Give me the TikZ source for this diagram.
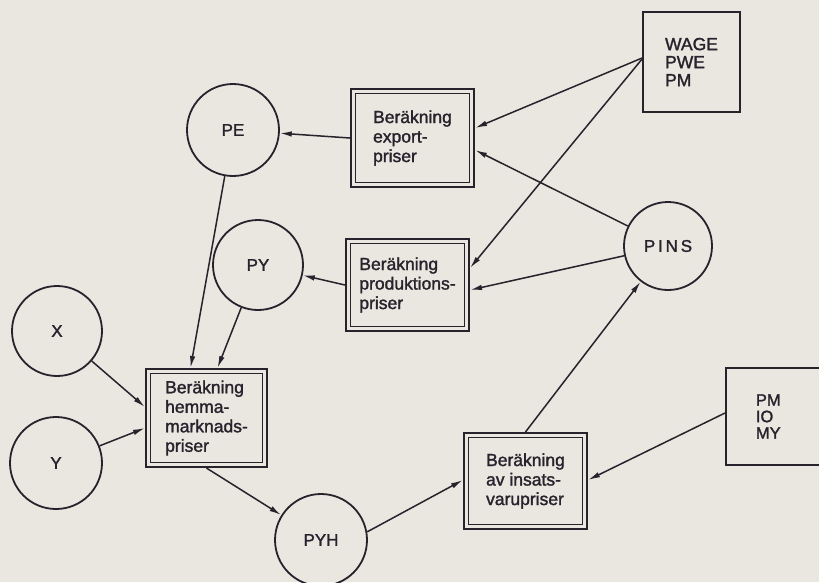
\documentclass[tikz,border=0pt]{standalone}
\usepackage{fontspec}
\setmainfont{Liberation Sans}
\newfontfamily\labelfont{Liberation Sans}[FakeBold=1.6]
\usetikzlibrary{arrows.meta,calc}
\definecolor{paper}{RGB}{233,231,224}
\definecolor{ink}{RGB}{40,34,44}
\tikzset{
  calcbox/.style={draw=ink, line width=2.1pt, align=left, text=ink, inner sep=0pt,
    font=\labelfont\fontsize{17.5}{19.5}\selectfont,
    path picture={\draw[ink, line width=1.4pt]
      ([shift={(4.5pt,-4.5pt)}]path picture bounding box.north west) rectangle
      ([shift={(-4.5pt,4.5pt)}]path picture bounding box.south east);}},
  databox/.style={draw=ink, line width=1.8pt, align=left, text=ink, inner sep=0pt},
  var/.style={circle, draw=ink, line width=1.8pt, inner sep=0pt, text=ink,
    font=\labelfont\fontsize{17}{19}\selectfont},
  flow/.style={draw=ink, line width=1.5pt, -{Latex[length=12pt,width=5.5pt]}},
}
\begin{document}
\begin{tikzpicture}[x=1pt,y=-1pt]
  \useasboundingbox (0,0) rectangle (819,582);
  \fill[paper] (0,0) rectangle (819,582);
  \clip (0,0) rectangle (819,582);

  % calculation blocks
  \node[calcbox, minimum width=123pt, minimum height=98pt] (exp) at (412.5,138)
    {Beräkning\\export-\\priser};
  \node[calcbox, minimum width=123pt, minimum height=92pt] (prod) at (407.5,285)
    {Beräkning\\produktions-\\priser};
  \node[calcbox, minimum width=121pt, minimum height=98pt] (hem) at (206.5,418)
    {Beräkning\\hemma-\\marknads-\\priser};
  \node[calcbox, minimum width=123pt, minimum height=96pt] (ins) at (525.5,481)
    {Beräkning\\av insats-\\varupriser};

  % exogenous data
  \node[databox, minimum width=97pt, minimum height=100pt,
        font=\labelfont\fontsize{17.5}{18}\selectfont] (wage) at (691.5,62)
    {WAGE\\PWE\\PM};
  \node[databox, anchor=west, minimum height=97pt, text width=90pt, inner xsep=30pt,
        font=\labelfont\fontsize{16.5}{16.5}\selectfont] (pmb) at (725,416.5)
    {PM\\IO\\MY};

  % variables
  \node[var, minimum size=92pt] (pe) at (233,130) {PE};
  \node[var, minimum size=90pt] (py) at (258,265) {PY};
  \node[var, minimum size=90pt] (x) at (57,331) {X};
  \node[var, minimum size=92pt] (y) at (56,463) {Y};
  \node[var, minimum size=92pt] (pyh) at (321,540) {PYH};
  \node[var, minimum size=88pt] (pins) at (668,246) {P\,I\,N\,S};

  % flows
  \draw[flow] (exp.west) -- (pe);
  \draw[flow] ([yshift=4pt]wage.west) -- ([yshift=10pt]exp.east);
  \draw[flow] ([yshift=3pt]wage.west) -- ([yshift=17pt]prod.east);
  \draw[flow] (pins) -- ([yshift=-12pt]exp.east);
  \draw[flow] (pins) -- ([yshift=-5pt]prod.east);
  \draw[flow] (prod.west) -- (py);
  \draw[flow] (pe) -- ([xshift=-16pt]hem.north);
  \draw[flow] (py) -- ([xshift=11pt]hem.north);
  \draw[flow] (x) -- ([yshift=11pt]hem.west);
  \draw[flow] (y) -- ([yshift=-10pt]hem.west);
  \draw[flow] (hem.south) -- (pyh);
  \draw[flow] (pyh.10) -- ([yshift=1pt]ins.west);
  \draw[flow] ([yshift=3.5pt]pmb.west) -- ([yshift=1pt]ins.east);
  \draw[flow] (ins.north) -- (pins);
\end{tikzpicture}
\end{document}
